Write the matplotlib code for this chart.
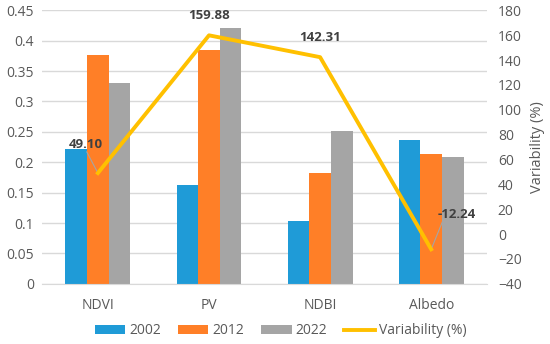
import matplotlib.pyplot as plt
import numpy as np

plt.rcParams['font.family'] = ['Open Sans', 'DejaVu Sans']

# data
categories = ['NDVI', 'PV', 'NDBI', 'Albedo']
years = ['2002', '2012', '2022']
vals_2002 = [0.222, 0.162, 0.104, 0.237]
vals_2012 = [0.376, 0.385, 0.182, 0.213]
vals_2022 = [0.331, 0.421, 0.252, 0.208]
variability = [49.10, 159.88, 142.31, -12.24]

colors = ['#1f9bd7', '#ff7f27', '#a5a5a5']
line_color = '#ffc000'
text_color = '#595959'

fig, ax = plt.subplots(figsize=(5.5, 3.44), dpi=100)
fig.subplots_adjust(left=0.077, right=0.885, top=0.97, bottom=0.175)

x = np.arange(len(categories))
w = 0.195
for i, (vals, yr) in enumerate(zip([vals_2002, vals_2012, vals_2022], years)):
    ax.bar(x + (i - 1) * w, vals, width=w, color=colors[i], label=yr, zorder=2)

ax.set_ylim(0, 0.45)
ax.set_yticks(np.arange(0, 0.451, 0.05))
ax.set_yticklabels(['0', '0.05', '0.1', '0.15', '0.2', '0.25', '0.3', '0.35', '0.4', '0.45'])
ax.set_xlim(-0.5, 3.5)
ax.set_xticks(x)
ax.set_xticklabels(categories)
ax.grid(axis='y', color='#d9d9d9', linewidth=1, zorder=0)
for s in ['top', 'left', 'right']:
    ax.spines[s].set_visible(False)
ax.spines['bottom'].set_color('#d9d9d9')
ax.tick_params(axis='both', length=0, colors=text_color, labelsize=10, pad=6)
ax.tick_params(axis='x', pad=10)

ax2 = ax.twinx()
ax2.plot(x, variability, color=line_color, linewidth=2.8, label='Variability (%)', zorder=3)
ax2.set_ylim(-40, 180)
ax2.set_yticks(np.arange(-40, 181, 20))
for s in ax2.spines.values():
    s.set_visible(False)
ax2.tick_params(axis='y', length=0, colors=text_color, labelsize=10, pad=8)
ax2.set_ylabel('Variability (%)', color=text_color, fontsize=10.5, labelpad=6)

# data labels (label offsets and leader-line ends)
offsets = [(-0.11, 23), (0, 16), (0, 16), (0.23, 28)]
leaders = {0: (-0.1, 17), 3: (0.1, 22)}
for xi, v, (dx, dy) in zip(x, variability, offsets):
    lx, ly = xi + dx, v + dy
    ax2.text(lx, ly, f'{v:.2f}', ha='center', va='center', fontsize=9.5,
             fontweight='bold', color='#404040', zorder=4)
    if xi in leaders:
        ex, ey = leaders[xi]
        ax2.plot([xi + ex, xi], [v + ey, v], color='#a5a5a5', linewidth=0.8, zorder=2.5)

h1, l1 = ax.get_legend_handles_labels()
h2, l2 = ax2.get_legend_handles_labels()
leg = fig.legend(h1 + h2, l1 + l2, loc='lower center', ncol=4, frameon=False,
                 bbox_to_anchor=(0.51, -0.02), fontsize=10, handlelength=2.2,
                 handleheight=0.55, columnspacing=1.2, handletextpad=0.3)
for t in leg.get_texts():
    t.set_color(text_color)

plt.savefig('out.png', dpi=100)
